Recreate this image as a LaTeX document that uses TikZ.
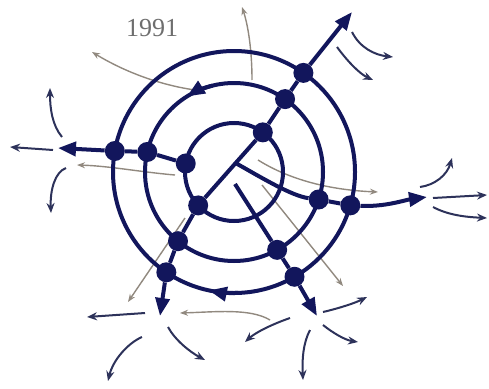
\documentclass[tikz,border=0pt]{standalone}
\usepackage{fontspec}
\setmainfont{Liberation Serif}
\usetikzlibrary{arrows.meta,calc}
\definecolor{navy}{RGB}{18,22,92}
\definecolor{thinarr}{RGB}{45,50,90}
\definecolor{grayline}{RGB}{145,137,127}
\definecolor{yeargray}{RGB}{110,110,110}
\begin{document}
\begin{tikzpicture}[x=1pt,y=-1pt,
  ring/.style={draw=navy,line width=4pt},
  spoke/.style={draw=navy,line width=4pt},
  bigtip/.style={-{Triangle[length=18pt,width=14pt]}},
  knot/.style={circle,fill=navy,inner sep=0pt,minimum size=20pt},
  thinarrow/.style={draw=thinarr,line width=2pt,-{Stealth[length=10pt,width=8pt]}},
  faint/.style={draw=grayline,line width=1.4pt,-{Stealth[length=8pt,width=6pt]}},
]
\useasboundingbox (0,0) rectangle (489,388);
\coordinate (C) at (234,172);

% faint grey lines (underneath)
\draw[faint] (252,80) .. controls (252,50) and (248,25) .. (242,7);
\draw[faint] (195,90) .. controls (160,85) and (125,72) .. (92,52);
\draw[faint] (175,175) .. controls (140,172) and (110,166) .. (77,165);
\draw[faint] (258,160) .. controls (290,180) and (330,190) .. (378,192);
\draw[faint] (262,185) -- (343,286);
\draw[faint] (185,218) -- (128,302);
\draw[faint] (270,320) .. controls (250,308) and (215,312) .. (180,313);

% rings
\draw[ring] (C) circle[radius=49];
\draw[ring] (C) circle[radius=89];
\draw[ring] (C) circle[radius=121];
\draw[ring,bigtip] ($(C)+(256:89)$) arc[start angle=256,end angle=238,radius=89];
\draw[ring,bigtip] ($(C)+(88:121)$) arc[start angle=88,end angle=102,radius=121];

% junctions
\node[knot] (i1) at ($(C)+(190:49)$) {};
\node[knot] (m1) at ($(C)+(193:89)$) {};
\node[knot] (o1) at ($(C)+(190:121)$) {};
\node[knot] (i2) at ($(C)+(306:49)$) {};
\node[knot] (m2) at ($(C)+(305:89)$) {};
\node[knot] (o2) at ($(C)+(305:121)$) {};
\node[knot] (i3) at ($(C)+(137:49)$) {};
\node[knot] (m3) at ($(C)+(129:89)$) {};
\node[knot] (o3) at ($(C)+(124:121)$) {};
\node[knot] (m4) at ($(C)+(18:89)$) {};
\node[knot] (o4) at ($(C)+(16:121)$) {};
\node[knot] (m5) at ($(C)+(61:89)$) {};
\node[knot] (o5) at ($(C)+(60:121)$) {};

\coordinate (tipL) at (58,148);
\coordinate (tipNE) at (352,12);
\coordinate (tipSW) at (160,316);
\coordinate (tipE) at (427,197);
\coordinate (tipSE) at (317,316);
\coordinate (e0) at ($(i2)!0.42!(i3)$);
\coordinate (s0) at (235,184);

% spokes
\draw[spoke,bigtip] (i1) -- (m1) -- (o1) -- (tipL);
\draw[spoke,bigtip] (i2) -- (m2) -- (o2) -- (tipNE);
\draw[spoke,bigtip] (i3) -- (m3) -- (o3) -- (tipSW);
\draw[spoke] (i2) -- (i3);
\draw[spoke] (e0) .. controls (262,178) and (292,196) .. (m4);
\draw[spoke,bigtip] (m4) -- (o4) .. controls (385,207) and (405,200) .. (tipE);
\draw[spoke,bigtip] (s0) -- (m5) -- (o5) -- (tipSE);

% dispersal arrows
\draw[thinarrow] (53,150) -- (10,147);
\draw[thinarrow] (62,137) .. controls (52,125) and (50,108) .. (50,88);
\draw[thinarrow] (66,168) .. controls (55,172) and (50,190) .. (51,213);
\draw[thinarrow] (352,32) .. controls (360,48) and (375,55) .. (393,57);
\draw[thinarrow] (337,47) .. controls (348,62) and (360,74) .. (373,80);
\draw[thinarrow] (420,187) .. controls (435,185) and (447,175) .. (452,158);
\draw[thinarrow] (433,198) -- (487,195);
\draw[thinarrow] (433,207) .. controls (448,215) and (465,217) .. (487,218);
\draw[thinarrow] (323,312) .. controls (340,308) and (355,303) .. (367,297);
\draw[thinarrow] (323,325) .. controls (333,333) and (345,340) .. (358,342);
\draw[thinarrow] (310,330) .. controls (303,343) and (302,360) .. (303,380);
\draw[thinarrow] (290,318) .. controls (270,325) and (255,333) .. (245,342);
\draw[thinarrow] (145,313) -- (87,317);
\draw[thinarrow] (142,337) .. controls (128,343) and (113,360) .. (108,381);
\draw[thinarrow] (168,327) .. controls (175,340) and (190,352) .. (205,360);

\node[text=yeargray,font=\fontsize{26}{26}\selectfont,inner sep=0pt] (year) at (152,28.5) {1991};
\end{tikzpicture}
\end{document}
